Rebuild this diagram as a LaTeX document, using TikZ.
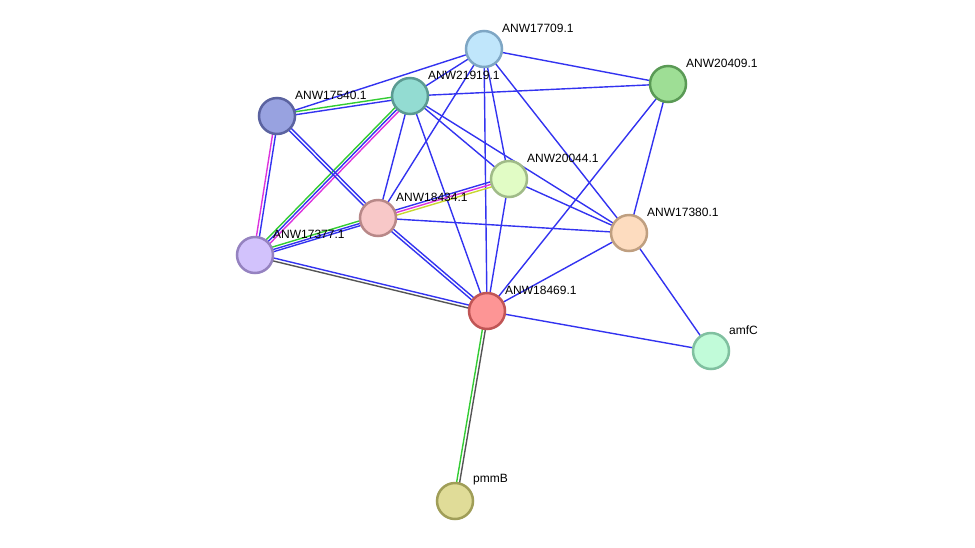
\documentclass[tikz,border=0pt]{standalone}
\usepackage{fontspec}
\setmainfont{Liberation Sans}
\usetikzlibrary{calc}
\pgfdeclarelayer{bg}
\pgfsetlayers{bg,main}
\definecolor{eb}{HTML}{3333F0}
\definecolor{eg}{HTML}{33CC33}
\definecolor{em}{HTML}{DD33DD}
\definecolor{ey}{HTML}{C8D830}
\definecolor{ek}{HTML}{555555}
\newcommand\ed[4]{\draw[#4] ($(#1.center)!#3!-90:(#2.center)$) -- ($(#2.center)!#3!90:(#1.center)$);}
\tikzset{
  prot/.style={circle, minimum size=36pt, inner sep=0pt, line width=2.5pt},
  lbl/.style={anchor=west, font=\fontsize{12}{14}\selectfont, inner sep=0pt},
  edge/.style={line width=1.4pt}
}
\begin{document}
\begin{tikzpicture}[x=1pt,y=-1pt]
\useasboundingbox (0,0) rectangle (975,547);
\node[prot, fill={rgb,255:red,192;green,230;blue,251}, draw={rgb,255:red,126;green,166;blue,196}] (n17709) at (484,49) {};
\node[prot, fill={rgb,255:red,158;green,222;blue,149}, draw={rgb,255:red,90;green,154;blue,85}] (n20409) at (668,84) {};
\node[prot, fill={rgb,255:red,147;green,220;blue,210}, draw={rgb,255:red,91;green,154;blue,146}] (n21919) at (410,96) {};
\node[prot, fill={rgb,255:red,152;green,162;blue,224}, draw={rgb,255:red,91;green,99;blue,160}] (n17540) at (277,116) {};
\node[prot, fill={rgb,255:red,225;green,252;blue,197}, draw={rgb,255:red,160;green,187;blue,136}] (n20044) at (509,179) {};
\node[prot, fill={rgb,255:red,248;green,200;blue,200}, draw={rgb,255:red,184;green,136;blue,136}] (n18434) at (378,218) {};
\node[prot, fill={rgb,255:red,253;green,220;blue,191}, draw={rgb,255:red,191;green,159;blue,128}] (n17380) at (629,233) {};
\node[prot, fill={rgb,255:red,210;green,194;blue,252}, draw={rgb,255:red,149;green,130;blue,192}] (n17377) at (255,255) {};
\node[prot, fill={rgb,255:red,253;green,149;blue,149}, draw={rgb,255:red,192;green,85;blue,85}] (n18469) at (487,311) {};
\node[prot, fill={rgb,255:red,193;green,251;blue,217}, draw={rgb,255:red,128;green,192;blue,160}] (namfC) at (711,351) {};
\node[prot, fill={rgb,255:red,224;green,220;blue,152}, draw={rgb,255:red,160;green,158;blue,88}] (npmmB) at (455,501) {};

\node[lbl] (l17709) at (502,28) {ANW17709.1};
\node[lbl] (l20409) at (686,63) {ANW20409.1};
\node[lbl] (l21919) at (428,75) {ANW21919.1};
\node[lbl] (l17540) at (295,95) {ANW17540.1};
\node[lbl] (l20044) at (527,158) {ANW20044.1};
\node[lbl] (l18434) at (396,197) {ANW18434.1};
\node[lbl] (l17380) at (647,212) {ANW17380.1};
\node[lbl] (l17377) at (273,234) {ANW17377.1};
\node[lbl] (l18469) at (505,290) {ANW18469.1};
\node[lbl] (lamfC) at (729,330) {amfC};
\node[lbl] (lpmmB) at (473,480) {pmmB};

\begin{pgfonlayer}{bg}
\ed{n17709}{n17540}{0pt}{edge,eb}
\ed{n17709}{n21919}{0pt}{edge,eb}
\ed{n17709}{n20409}{0pt}{edge,eb}
\ed{n17709}{n18434}{0pt}{edge,eb}
\ed{n17709}{n18469}{0pt}{edge,eb}
\ed{n17709}{n20044}{0pt}{edge,eb}
\ed{n17709}{n17380}{0pt}{edge,eb}
\ed{n21919}{n20409}{0pt}{edge,eb}
\ed{n21919}{n18434}{0pt}{edge,eb}
\ed{n21919}{n18469}{0pt}{edge,eb}
\ed{n21919}{n20044}{0pt}{edge,eb}
\ed{n21919}{n17380}{0pt}{edge,eb}
\ed{n17540}{n21919}{-1.5pt}{edge,eg}
\ed{n17540}{n21919}{1.5pt}{edge,eb}
\ed{n21919}{n17377}{2.6pt}{edge,eg}
\ed{n21919}{n17377}{0pt}{edge,eb}
\ed{n21919}{n17377}{-2.6pt}{edge,em}
\ed{n17540}{n17377}{-1.5pt}{edge,eb}
\ed{n17540}{n17377}{1.5pt}{edge,em}
\ed{n17540}{n18434}{-1.5pt}{edge,eb}
\ed{n17540}{n18434}{1.5pt}{edge,eb}
\ed{n17377}{n18434}{-2.6pt}{edge,eg}
\ed{n17377}{n18434}{0pt}{edge,eb}
\ed{n17377}{n18434}{2.2pt}{edge,eb}
\ed{n17377}{n18469}{-1.5pt}{edge,eb}
\ed{n17377}{n18469}{1.5pt}{edge,ek}
\ed{n18434}{n20044}{-2.6pt}{edge,eb}
\ed{n18434}{n20044}{0pt}{edge,em}
\ed{n18434}{n20044}{2.6pt}{edge,ey}
\ed{n18434}{n17380}{0pt}{edge,eb}
\ed{n18434}{n18469}{-1.5pt}{edge,eb}
\ed{n18434}{n18469}{1.5pt}{edge,eb}
\ed{n20044}{n17380}{0pt}{edge,eb}
\ed{n20044}{n18469}{0pt}{edge,eb}
\ed{n20409}{n17380}{0pt}{edge,eb}
\ed{n20409}{n18469}{0pt}{edge,eb}
\ed{n17380}{n18469}{0pt}{edge,eb}
\ed{n17380}{namfC}{0pt}{edge,eb}
\ed{n18469}{namfC}{0pt}{edge,eb}
\ed{n18469}{npmmB}{1.5pt}{edge,eg}
\ed{n18469}{npmmB}{-1.5pt}{edge,ek}
\end{pgfonlayer}
\end{tikzpicture}
\end{document}
